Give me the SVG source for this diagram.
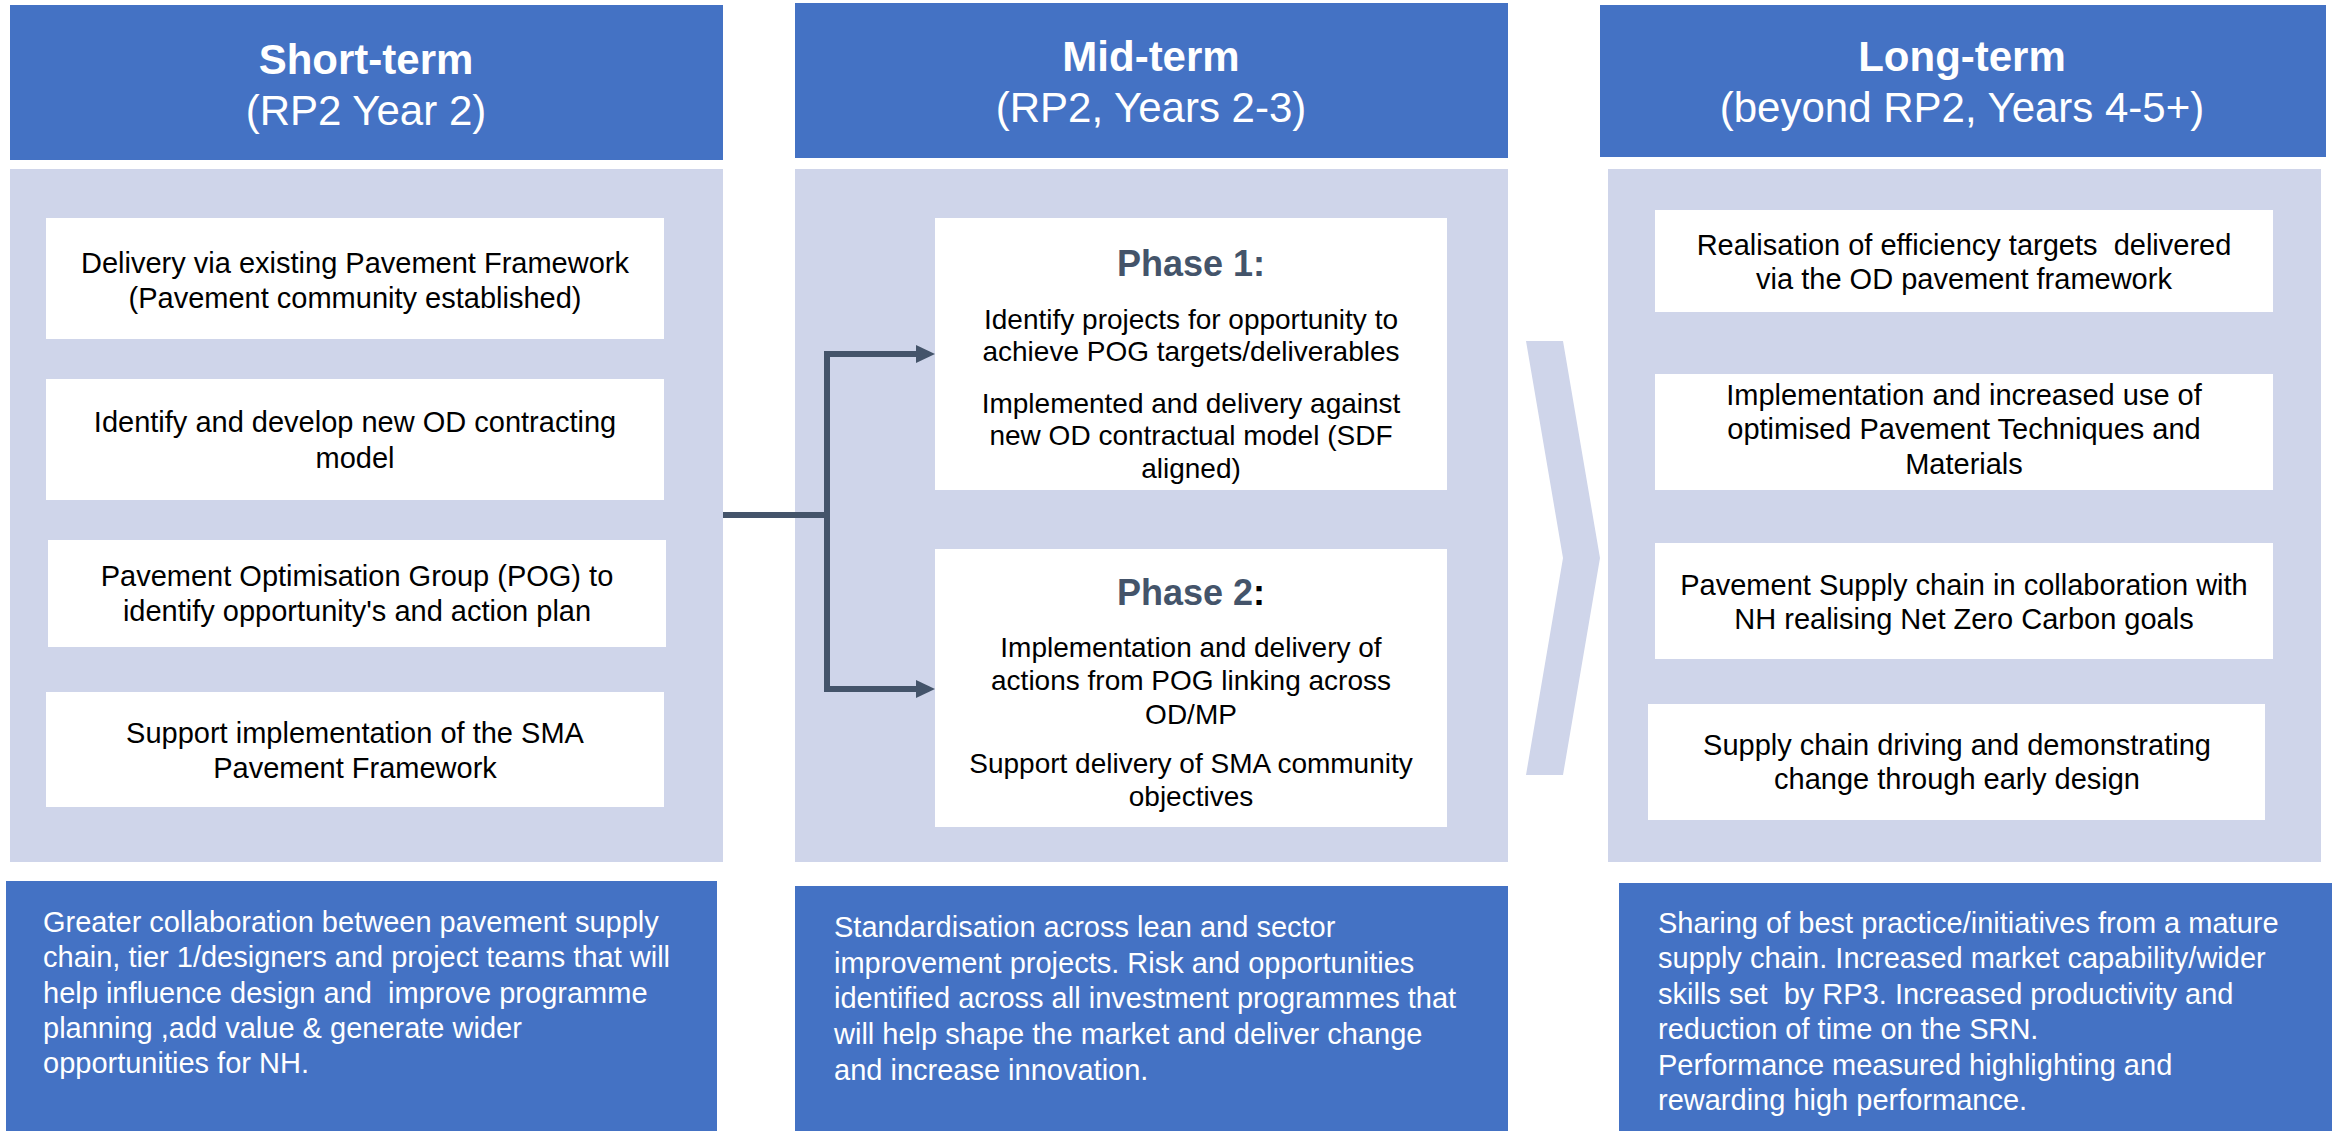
<svg xmlns="http://www.w3.org/2000/svg" width="2343" height="1131" viewBox="0 0 2343 1131">
  <defs>
    <style>
      .hdr { fill: #4472C4; }
      .panel { fill: #CFD5EA; }
      .card { fill: #FFFFFF; }
      .foot { fill: #4472C4; }
      text { font-family: "Liberation Sans", Arial, sans-serif; }
      .t-title { font-size: 42px; font-weight: bold; fill: #FFFFFF; text-anchor: middle; }
      .t-sub { font-size: 42px; fill: #FFFFFF; text-anchor: middle; }
      .t-card { font-size: 29px; fill: #000000; text-anchor: middle; }
      .t-phase { font-size: 28px; fill: #000000; text-anchor: middle; }
      .t-phase-h { font-size: 36px; font-weight: bold; fill: #44546A; text-anchor: middle; }
      .t-foot { font-size: 29px; fill: #FFFFFF; }
      .link { fill: none; stroke: #44546A; stroke-width: 6; }
    </style>
    <marker id="arrow" markerUnits="userSpaceOnUse" viewBox="0 0 19 18" refX="1" refY="9" markerWidth="19" markerHeight="18" orient="auto">
      <path d="M0,0 L19,9 L0,18 z" fill="#44546A"/>
    </marker>
  </defs>

  <!-- Short-term column -->
  <g id="short-term">
    <rect class="hdr" x="10" y="5" width="713" height="155"/>
    <text class="t-title" x="366" y="74">Short-term</text>
    <text class="t-sub" x="366" y="125">(RP2 Year 2)</text>
    <rect class="panel" x="10" y="169" width="713" height="693"/>
  </g>
  <g id="st-delivery">
    <rect class="card" x="46" y="218" width="618" height="121"/>
    <text class="t-card" x="355" y="273">Delivery via existing Pavement Framework</text>
    <text class="t-card" x="355" y="308">(Pavement community established)</text>
  </g>
  <g id="st-contracting">
    <rect class="card" x="46" y="379" width="618" height="121"/>
    <text class="t-card" x="355" y="432">Identify and develop new OD contracting</text>
    <text class="t-card" x="355" y="468">model</text>
  </g>
  <g id="st-pog">
    <rect class="card" x="48" y="540" width="618" height="107"/>
    <text class="t-card" x="357" y="586">Pavement Optimisation Group (POG) to</text>
    <text class="t-card" x="357" y="621">identify opportunity's and action plan</text>
  </g>
  <g id="st-sma">
    <rect class="card" x="46" y="692" width="618" height="115"/>
    <text class="t-card" x="355" y="743">Support implementation of the SMA</text>
    <text class="t-card" x="355" y="778">Pavement Framework</text>
  </g>
  <g id="st-outcome">
    <rect class="foot" x="6" y="881" width="711" height="250"/>
    <text class="t-foot" x="43" y="932">Greater collaboration between pavement supply</text>
    <text class="t-foot" x="43" y="967">chain, tier 1/designers and project teams that will</text>
    <text class="t-foot" x="43" y="1003" xml:space="preserve">help influence design and  improve programme</text>
    <text class="t-foot" x="43" y="1038">planning ,add value &amp; generate wider</text>
    <text class="t-foot" x="43" y="1073">opportunities for NH.</text>
  </g>

  <!-- Mid-term column -->
  <g id="mid-term">
    <rect class="hdr" x="795" y="3" width="713" height="155"/>
    <text class="t-title" x="1151" y="71">Mid-term</text>
    <text class="t-sub" x="1151" y="122">(RP2, Years 2-3)</text>
    <rect class="panel" x="795" y="169" width="713" height="693"/>
  </g>
  <g id="phase-1">
    <rect class="card" x="935" y="218" width="512" height="272"/>
    <text class="t-phase-h" x="1191" y="276">Phase 1:</text>
    <text class="t-phase" x="1191" y="329">Identify projects for opportunity to</text>
    <text class="t-phase" x="1191" y="361">achieve POG targets/deliverables</text>
    <text class="t-phase" x="1191" y="413">Implemented and delivery against</text>
    <text class="t-phase" x="1191" y="445">new OD contractual model (SDF</text>
    <text class="t-phase" x="1191" y="478">aligned)</text>
  </g>
  <g id="phase-2">
    <rect class="card" x="935" y="549" width="512" height="278"/>
    <text class="t-phase-h" x="1191" y="605">Phase 2<tspan fill="#000000">:</tspan></text>
    <text class="t-phase" x="1191" y="657">Implementation and delivery of</text>
    <text class="t-phase" x="1191" y="690">actions from POG linking across</text>
    <text class="t-phase" x="1191" y="724">OD/MP</text>
    <text class="t-phase" x="1191" y="773">Support delivery of SMA community</text>
    <text class="t-phase" x="1191" y="806">objectives</text>
  </g>
  <g id="mt-outcome">
    <rect class="foot" x="795" y="886" width="713" height="245"/>
    <text class="t-foot" x="834" y="937">Standardisation across lean and sector</text>
    <text class="t-foot" x="834" y="973">improvement projects. Risk and opportunities</text>
    <text class="t-foot" x="834" y="1008">identified across all investment programmes that</text>
    <text class="t-foot" x="834" y="1044">will help shape the market and deliver change</text>
    <text class="t-foot" x="834" y="1080">and increase innovation.</text>
  </g>

  <!-- Chevron between mid and long term -->
  <g id="chevron">
    <polygon class="panel" points="1526,341 1563,341 1600,558 1563,775 1526,775 1563,558"/>
  </g>

  <!-- Long-term column -->
  <g id="long-term">
    <rect class="hdr" x="1600" y="5" width="726" height="152"/>
    <text class="t-title" x="1962" y="71">Long-term</text>
    <text class="t-sub" x="1962" y="122">(beyond RP2, Years 4-5+)</text>
    <rect class="panel" x="1608" y="169" width="713" height="693"/>
  </g>
  <g id="lt-efficiency">
    <rect class="card" x="1655" y="210" width="618" height="102"/>
    <text class="t-card" x="1964" y="255" xml:space="preserve">Realisation of efficiency targets  delivered</text>
    <text class="t-card" x="1964" y="289">via the OD pavement framework</text>
  </g>
  <g id="lt-techniques">
    <rect class="card" x="1655" y="374" width="618" height="116"/>
    <text class="t-card" x="1964" y="405">Implementation and increased use of</text>
    <text class="t-card" x="1964" y="439">optimised Pavement Techniques and</text>
    <text class="t-card" x="1964" y="474">Materials</text>
  </g>
  <g id="lt-carbon">
    <rect class="card" x="1655" y="543" width="618" height="116"/>
    <text class="t-card" x="1964" y="595">Pavement Supply chain in collaboration with</text>
    <text class="t-card" x="1964" y="629">NH realising Net Zero Carbon goals</text>
  </g>
  <g id="lt-design">
    <rect class="card" x="1648" y="704" width="617" height="116"/>
    <text class="t-card" x="1957" y="755">Supply chain driving and demonstrating</text>
    <text class="t-card" x="1957" y="789">change through early design</text>
  </g>
  <g id="lt-outcome">
    <rect class="foot" x="1619" y="883" width="713" height="248"/>
    <text class="t-foot" x="1658" y="933">Sharing of best practice/initiatives from a mature</text>
    <text class="t-foot" x="1658" y="968">supply chain. Increased market capability/wider</text>
    <text class="t-foot" x="1658" y="1004" xml:space="preserve">skills set  by RP3. Increased productivity and</text>
    <text class="t-foot" x="1658" y="1039">reduction of time on the SRN.</text>
    <text class="t-foot" x="1658" y="1075">Performance measured highlighting and</text>
    <text class="t-foot" x="1658" y="1110">rewarding high performance.</text>
  </g>

  <!-- Connectors: short-term feeds both mid-term phases -->
  <g id="connectors">
    <path class="link" d="M723,515 H827 V354 H917" marker-end="url(#arrow)"/>
    <path class="link" d="M827,512 V689 H917" marker-end="url(#arrow)"/>
  </g>
</svg>
